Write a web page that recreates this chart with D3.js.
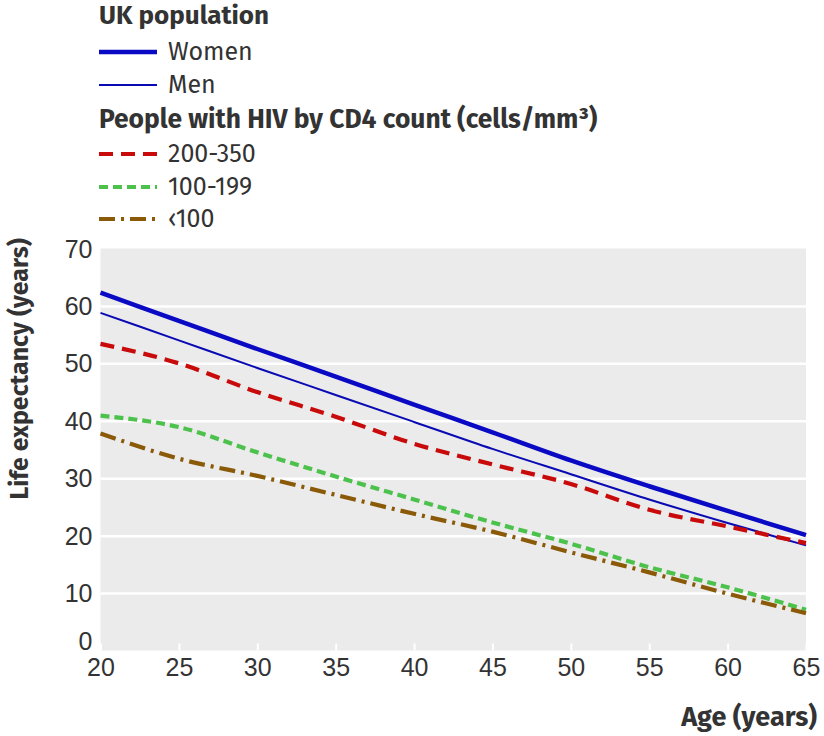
<!DOCTYPE html>
<html><head><meta charset="utf-8">
<script src="https://cdn.jsdelivr.net/npm/d3@7"></script>
<style>
html,body{margin:0;padding:0;background:#fff;}
svg{display:block;font-family:"Fira Sans","Open Sans","Noto Sans",sans-serif;}
</style></head>
<body><svg id="c" width="824" height="736"></svg>
<script>
const ages = [20,25,30,35,40,45,50,55,60,65];
const women   = [62.3,57.4,52.5,47.7,42.8,38.0,33.1,28.6,24.3,20.1];
const men     = [58.8,54.0,49.2,44.5,39.8,35.1,30.7,26.3,22.2,18.3];
const cd4_200_350 = [53.4,50.0,45.0,40.7,36.0,32.4,29.0,24.5,21.6,18.7];
const cd4_100_199 = [40.9,38.9,34.5,30.3,26.3,22.3,18.6,14.5,11.0,7.1];
const cd4_lt100   = [37.8,33.4,30.4,27.1,23.8,20.7,17.1,13.6,9.9,6.5];
const xTicks = [20,25,30,35,40,45,50,55,60,65];
const yTicks = [0,10,20,30,40,50,60,70];

const seriesDefs = [
  {name:"Women", values:women, color:"#0a0ac4", width:4.5, dash:null},
  {name:"Men", values:men, color:"#0a0ab4", width:2, dash:null},
  {name:"200-350", values:cd4_200_350, color:"#c80a0a", width:4.2, dash:"14,8"},
  {name:"100-199", values:cd4_100_199, color:"#4cc24c", width:4.2, dash:"9,5"},
  {name:"‹100", values:cd4_lt100, color:"#8a5a08", width:4.2, dash:"16,6,3,6"}
];

const svg = d3.select("#c");
const x = d3.scaleLinear().domain([20,65]).range([100.5,806]);
const y = d3.scaleLinear().domain([0,70]).range([650.5,248.5]);
const txt = "#333";

// plot background
svg.append("rect").attr("x",x(20)).attr("y",y(70)).attr("width",x(65)-x(20)).attr("height",y(0)-y(70)).attr("fill","#ebebeb");

// gridlines
const grid = svg.append("g").attr("transform",`translate(${x(20)},0)`)
  .call(d3.axisLeft(y).tickValues(yTicks.filter(d=>d>0&&d<70)).tickSize(-(x(65)-x(20))).tickFormat(""));
grid.select(".domain").remove();
grid.selectAll("line").attr("stroke","#fff").attr("stroke-width",2.5);

// y axis labels
const ya = svg.append("g").attr("transform",`translate(${x(20)},0)`)
  .call(d3.axisLeft(y).tickValues(yTicks).tickSize(0).tickPadding(8));
ya.select(".domain").remove();
ya.selectAll("text").attr("font-size",25).attr("fill",txt).attr("font-family","inherit")
  .attr("dy", d => d===0 ? "-0.05em" : "0.34em");

// x axis: white inward ticks + labels
const xa = svg.append("g").attr("transform",`translate(0,${y(0)})`)
  .call(d3.axisBottom(x).tickValues(xTicks).tickSize(-7).tickPadding(8));
xa.select(".domain").remove();
xa.selectAll("line").attr("stroke","#fff").attr("stroke-width",2);
xa.selectAll("text").attr("font-size",25).attr("fill",txt).attr("font-family","inherit")
  .attr("y",25).attr("dy",0);

// lines
const line = d3.line().x((d,i)=>x(ages[i])).y(d=>y(d)).curve(d3.curveMonotoneX);
seriesDefs.forEach(s=>{
  svg.append("path").datum(s.values).attr("d",line).attr("fill","none")
    .attr("stroke",s.color).attr("stroke-width",s.width)
    .attr("stroke-dasharray",s.dash).attr("stroke-linejoin","round");
});

// axis titles
svg.append("text").attr("transform","translate(28,238) rotate(-90)").attr("text-anchor","end")
  .attr("font-size",25).attr("font-weight","bold").attr("fill",txt).text("Life expectancy (years)");
svg.append("text").attr("x",817).attr("y",726).attr("text-anchor","end")
  .attr("font-size",27).attr("font-weight","bold").attr("fill",txt).text("Age (years)");

// legend
const leg = svg.append("g");
leg.append("text").attr("x",99).attr("y",24).attr("font-size",26).attr("font-weight","bold").attr("fill",txt).text("UK population");
leg.append("text").attr("x",99).attr("y",128).attr("font-size",26.4).attr("font-weight","bold").attr("fill",txt)
  .html("People with HIV by CD4 count (cells/mm<tspan>³</tspan>)");
const legRows = [60,93,162,195,227];
seriesDefs.forEach((s,i)=>{
  const by = legRows[i];
  leg.append("line").attr("x1",99).attr("x2",157).attr("y1",by-8).attr("y2",by-8)
    .attr("stroke",s.color).attr("stroke-width",s.width).attr("stroke-dasharray",s.dash);
  leg.append("text").attr("x",168).attr("y",by).attr("font-size",25).attr("fill",txt).text(s.name);
});
</script></body></html>
